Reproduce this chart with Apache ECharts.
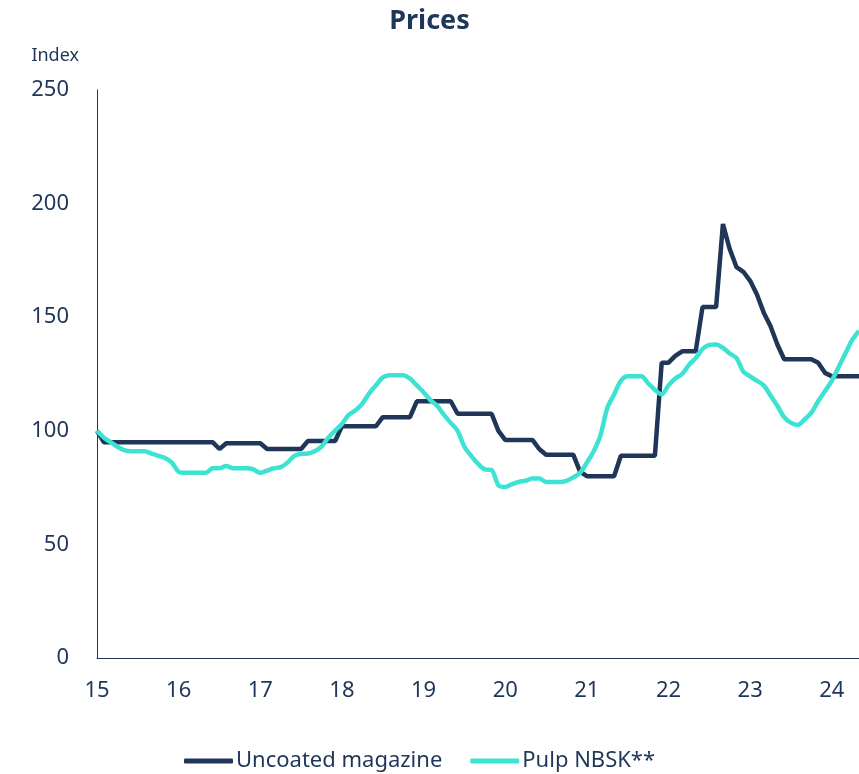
<!DOCTYPE html>
<html>
  <head>
    <meta charset="utf-8" />
    <title>Prices</title>
    <script src="https://cdn.jsdelivr.net/npm/echarts@6/dist/echarts.min.js"></script>
    <style>
      body { margin: 0; background: #fff; }
      #main { width: 859px; height: 774px; }
    </style>
  </head>
  <body>
    <div id="main"></div>
    <script type="text/javascript">
      // monthly points, Jan 2015 onward
      var yearLabels = ["15", "16", "17", "18", "19", "20", "21", "22", "23", "24"];

      var uncoated = [
        100, 95, 95, 95, 95, 95, 95, 95, 95, 95, 95, 95,
        95, 95, 95, 95, 95, 95, 92, 94.5, 94.5, 94.5, 94.5, 94.5,
        94.5, 92, 92, 92, 92, 92, 92, 95.5, 95.5, 95.5, 95.5, 95.5,
        102, 102, 102, 102, 102, 102, 106, 106, 106, 106, 106, 113,
        113, 113, 113, 113, 113, 107.5, 107.5, 107.5, 107.5, 107.5, 107.5, 100,
        96, 96, 96, 96, 96, 92, 89.5, 89.5, 89.5, 89.5, 89.5, 82,
        80, 80, 80, 80, 80, 89, 89, 89, 89, 89, 89, 130,
        130, 133, 135, 135, 135, 154.5, 154.5, 154.5, 191, 180, 172, 170,
        166, 160, 152, 146, 138, 131.5, 131.5, 131.5, 131.5, 131.5, 130, 125.5,
        124, 124, 124, 124, 124
      ];

      var pulp = [
        100, 97, 95, 93, 91.5, 91, 91, 91, 90, 89, 88, 86,
        82, 81.5, 81.5, 81.5, 81.5, 83.5, 83.5, 84.5, 83.5, 83.5, 83.5, 83,
        81.5, 82.5, 83.5, 84, 86, 89, 89.8, 90, 91, 93, 97, 100,
        103, 107, 109, 112, 116.5, 120, 123.5, 124.5, 124.5, 124.5, 123, 120,
        117, 113.5, 111, 107, 103.5, 100, 93, 89, 85.5, 83, 82.7, 76,
        75.3, 76.5, 77.5, 78, 79, 79, 77.5, 77.5, 77.5, 78, 79.5, 81.5,
        86, 91, 98, 110, 116, 122, 124, 124, 124, 121, 118, 116,
        120, 123, 125, 129, 132, 136, 137.8, 138, 136.5, 134, 132, 126,
        124, 122, 120, 115.5, 111, 106, 103.5, 102.6, 105, 108, 113, 117.5,
        122, 128, 134, 140, 144
      ];

      var months = [];
      for (i = 0; i < uncoated.length; i++) {
        months[i] = i % 12 === 0 ? yearLabels[i / 12] : "";
      }

      var navy = "#1f3658";
      var teal = "#3de2d3";
      var fontName = "'Noto Sans', sans-serif";

      var chartDom = document.getElementById("main");
      var myChart = echarts.init(chartDom);
      var option;

      option = {
        animation: false,
        textStyle: { fontFamily: fontName, color: navy },
        title: {
          text: "Prices",
          left: "center",
          top: 3,
          textStyle: { fontFamily: fontName, fontSize: 27, fontWeight: "bold", color: navy },
        },
        legend: {
          data: ["Uncoated magazine", "Pulp NBSK**"],
          bottom: -3,
          left: 179,
          icon: "roundRect",
          itemWidth: 49,
          itemHeight: 5,
          itemGap: 28,
          textStyle: { fontFamily: fontName, fontSize: 22, color: navy, padding: [0, 0, 0, -2] },
        },
        grid: {
          left: 97,
          right: 0,
          top: 90,
          bottom: 116,
          outerBoundsMode: "none",
        },
        xAxis: {
          type: "category",
          boundaryGap: false,
          data: months,
          axisLine: { lineStyle: { color: navy, width: 1 } },
          axisTick: { show: false },
          axisLabel: {
            interval: 0,
            fontSize: 22,
            color: navy,
            margin: 22,
            fontFamily: fontName,
          },
          splitLine: { show: false },
        },
        yAxis: {
          type: "value",
          name: "Index",
          nameLocation: "end",
          nameGap: 25,
          nameTextStyle: { fontSize: 18, color: navy, align: "right", padding: [0, 18, 0, 0] },
          min: 0,
          max: 250,
          interval: 50,
          axisLine: { show: true, lineStyle: { color: navy, width: 1 } },
          axisTick: { show: false },
          axisLabel: { fontSize: 22, color: navy, margin: 28, fontFamily: fontName },
          splitLine: { show: false },
        },
        series: [
          {
            name: "Uncoated magazine",
            type: "line",
            data: uncoated,
            showSymbol: false,
            color: navy,
            lineStyle: { width: 4.5, color: navy },
          },
          {
            name: "Pulp NBSK**",
            type: "line",
            data: pulp,
            showSymbol: false,
            smooth: 0.3,
            color: teal,
            lineStyle: { width: 4.5, color: teal },
          },
        ],
      };

      option && myChart.setOption(option);
    </script>
  </body>
</html>
